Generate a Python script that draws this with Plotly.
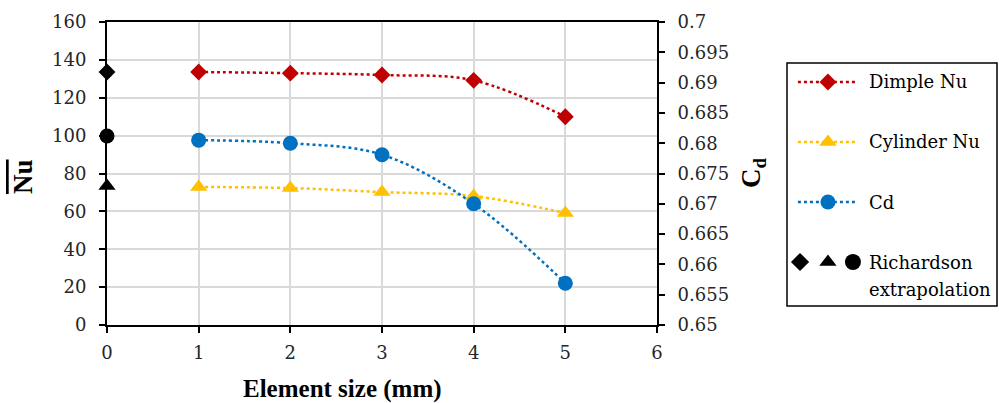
import plotly.graph_objects as go

# ---- data ----
element_size = [1, 2, 3, 4, 5]
dimple_nu = [133.6, 133.0, 132.0, 129.2, 110.0]
cylinder_nu = [72.9, 72.3, 70.2, 68.1, 59.1]
cd = [0.6805, 0.6800, 0.6781, 0.6700, 0.6569]
rich_x = [0]
rich_dimple = [133.6]
rich_cylinder = [73.4]
rich_cd = [0.6812]

left_ticks = [0, 20, 40, 60, 80, 100, 120, 140, 160]
right_ticks = [0.65, 0.655, 0.66, 0.665, 0.67, 0.675, 0.68, 0.685, 0.69, 0.695, 0.7]
right_labels = ["0.65", "0.655", "0.66", "0.665", "0.67", "0.675", "0.68", "0.685", "0.69", "0.695", "0.7"]
x_ticks = [0, 1, 2, 3, 4, 5, 6]

RED = "#C00000"
GOLD = "#FFC000"
BLUE = "#0070C0"
BOLD_FONT = "Liberation Serif"
REG_FONT = "DejaVu Serif"
TICK_COLOR = "#262626"

W, H = 999, 403
ML, MR, MT, MB = 107, 0, 22, 78
PW = W - ML - MR
PH = H - MT - MB

def px_x(px):
    return (px - ML) / PW

def px_y(py):
    return (H - MB - py) / PH

fig = go.Figure()

fig.add_trace(go.Scatter(x=element_size, y=dimple_nu, mode="lines+markers",
                         line=dict(color=RED, width=2.5, dash="dot", shape="spline"),
                         marker=dict(symbol="diamond", size=13, color=RED),
                         xaxis="x", yaxis="y", showlegend=False))
fig.add_trace(go.Scatter(x=element_size, y=cylinder_nu, mode="lines+markers",
                         line=dict(color=GOLD, width=2.5, dash="dot", shape="spline"),
                         marker=dict(symbol="triangle-up", size=15, color=GOLD),
                         xaxis="x", yaxis="y", showlegend=False))
fig.add_trace(go.Scatter(x=element_size, y=cd, mode="lines+markers",
                         line=dict(color=BLUE, width=2.5, dash="dot", shape="spline"),
                         marker=dict(symbol="circle", size=15, color=BLUE),
                         xaxis="x", yaxis="y2", showlegend=False))
fig.add_trace(go.Scatter(x=rich_x, y=rich_dimple, mode="markers",
                         marker=dict(symbol="diamond", size=13, color="black"),
                         xaxis="x", yaxis="y", showlegend=False, cliponaxis=False))
fig.add_trace(go.Scatter(x=rich_x, y=rich_cylinder, mode="markers",
                         marker=dict(symbol="triangle-up", size=15, color="black"),
                         xaxis="x", yaxis="y", showlegend=False, cliponaxis=False))
fig.add_trace(go.Scatter(x=rich_x, y=rich_cd, mode="markers",
                         marker=dict(symbol="circle", size=15, color="black"),
                         xaxis="x", yaxis="y2", showlegend=False, cliponaxis=False))

# ---- custom legend (on its own hidden axes) ----
LEG_SIZE = 18
leg_rows = [
    ("Dimple Nu", RED, "diamond", 13, 0.922),
    ("Cylinder Nu", GOLD, "triangle-up", 15, 0.675),
    ("Cd", BLUE, "circle", 15, 0.428),
]
for name, col, sym, sz, yy in leg_rows:
    fig.add_trace(go.Scatter(x=[0.052, 0.338], y=[yy, yy], mode="lines",
                             line=dict(color=col, width=2.5, dash="dot"),
                             xaxis="x3", yaxis="y3", showlegend=False, hoverinfo="skip"))
    fig.add_trace(go.Scatter(x=[0.195], y=[yy], mode="markers",
                             marker=dict(symbol=sym, size=sz, color=col),
                             xaxis="x3", yaxis="y3", showlegend=False, hoverinfo="skip"))
    fig.add_annotation(x=0.38, y=yy, xref="x3", yref="y3", text=name, showarrow=False,
                       xanchor="left", yanchor="middle",
                       font=dict(family=REG_FONT, size=LEG_SIZE, color="black"))
for xx, sym, sz in [(0.062, "diamond", 14), (0.195, "triangle-up", 15), (0.314, "circle", 16)]:
    fig.add_trace(go.Scatter(x=[xx], y=[0.181], mode="markers",
                             marker=dict(symbol=sym, size=sz, color="black"),
                             xaxis="x3", yaxis="y3", showlegend=False, hoverinfo="skip"))
for txt, yy in [("Richardson", 0.181), ("extrapolation", 0.066)]:
    fig.add_annotation(x=0.38, y=yy, xref="x3", yref="y3", text=txt,
                       showarrow=False, xanchor="left", yanchor="middle",
                       font=dict(family=REG_FONT, size=LEG_SIZE, color="black"))

fig.add_shape(type="rect", xref="paper", yref="paper",
              x0=px_x(787), x1=px_x(997), y0=px_y(306), y1=px_y(63),
              line=dict(color="black", width=1.5))

# axis titles as annotations for exact placement
fig.add_annotation(x=px_x(23), y=px_y(177), xref="paper", yref="paper",
                   text="<b><span style='text-decoration:overline'>Nu</span></b>",
                   showarrow=False, textangle=-90, xanchor="center", yanchor="middle",
                   font=dict(family=BOLD_FONT, size=27, color="black"))
fig.add_annotation(x=px_x(753), y=px_y(173), xref="paper", yref="paper",
                   text="<b>C<sub>d</sub></b>",
                   showarrow=False, textangle=-90, xanchor="center", yanchor="middle",
                   font=dict(family=BOLD_FONT, size=27, color="black"))
fig.add_annotation(x=px_x(342), y=px_y(389), xref="paper", yref="paper",
                   text="<b>Element size (mm)</b>",
                   showarrow=False, xanchor="center", yanchor="middle",
                   font=dict(family=BOLD_FONT, size=25, color="black"))

axis_common = dict(showline=True, linecolor="black", linewidth=2, ticks="outside",
                   ticklen=6, tickwidth=2, tickcolor="black", zeroline=False,
                   tickfont=dict(family=REG_FONT, size=18, color=TICK_COLOR))

fig.update_layout(
    width=W, height=H,
    margin=dict(l=ML, r=MR, t=MT, b=MB, autoexpand=False),
    paper_bgcolor="white", plot_bgcolor="white",
    font=dict(family=REG_FONT, color="black"),
    xaxis=dict(domain=[0, px_x(657)], range=[0, 6], tickvals=x_ticks,
               showgrid=True, gridcolor="#d9d9d9", gridwidth=2, mirror=True,
               ticklabelstandoff=4, **axis_common),
    yaxis=dict(range=[0, 160], tickvals=left_ticks, showgrid=True, gridcolor="#d9d9d9", gridwidth=2,
               ticklabelstandoff=9, **axis_common),
    yaxis2=dict(range=[0.65, 0.7], tickvals=right_ticks, ticktext=right_labels, overlaying="y",
                side="right", anchor="x", showgrid=False,
                ticklabelstandoff=9, **axis_common),
    xaxis3=dict(domain=[px_x(787), px_x(997)], range=[0, 1], visible=False, fixedrange=True),
    yaxis3=dict(domain=[px_y(306), px_y(63)], range=[0, 1], visible=False, fixedrange=True, anchor="x3"),
)

fig.write_html("out.html")
